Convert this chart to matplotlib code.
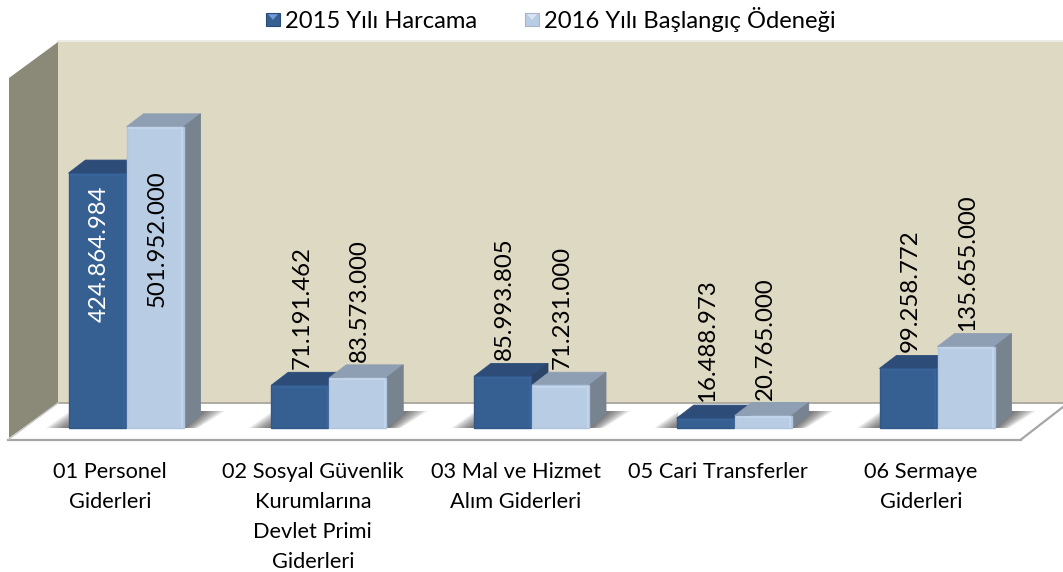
import matplotlib
matplotlib.use("Agg")
import matplotlib.pyplot as plt
from matplotlib.patches import Polygon, Rectangle
from matplotlib.legend_handler import HandlerBase

plt.rcParams['font.family'] = ['Lato', 'Open Sans', 'DejaVu Sans']

categories = ["01 Personel\nGiderleri",
              "02 Sosyal Güvenlik\nKurumlarına\nDevlet Primi\nGiderleri",
              "03 Mal ve Hizmet\nAlım Giderleri",
              "05 Cari Transferler",
              "06 Sermaye\nGiderleri"]
series_names = ["2015 Yılı Harcama", "2016 Yılı Başlangıç Ödeneği"]
harcama_2015 = [424864984, 71191462, 85993805, 16488973, 99258772]
odenek_2016 = [501952000, 83573000, 71231000, 20765000, 135655000]

W, H = 1063, 572
fig = plt.figure(figsize=(W / 100, H / 100), dpi=100, facecolor='white')
ax = fig.add_axes([0, 0, 1, 1])

# scales: pixels per category and per lira
PX_CAT, X0 = 202.75, 126.0
PX_VAL, Y0 = 0.6e-6, 428.0
ax.set_xlim(-X0 / PX_CAT, (W - X0) / PX_CAT)
ax.set_ylim((Y0 - H) / PX_VAL, Y0 / PX_VAL)
ax.axis('off')


def P(px, py):
    return ((px - X0) / PX_CAT, (Y0 - py) / PX_VAL)


def poly(points, **kw):
    p = Polygon([P(*q) for q in points], closed=True, **kw)
    ax.add_patch(p)
    return p


# walls and floor
poly([(58, 42), (W, 42), (W, 403), (58, 403)], fc='#DED9C3', ec='none', zorder=1)
ax.plot(*zip(P(58, 41.5), P(W, 41.5)), color='#E8E8E4', lw=1.2, zorder=1.1)
poly([(9, 78), (58, 42), (58, 403), (9, 438)], fc='#8B8978', ec='none', zorder=1)
poly([(9, 439), (58, 403), (W, 403), (W, 407), (1020, 439)], fc='white', ec='none', zorder=1)
ax.plot(*zip(P(58, 403), P(W, 403)), color='#A8A79E', lw=1.3, zorder=1.2)
ax.plot(*zip(P(8, 439.5), P(1021, 439.5)), color='#A6A6A6', lw=1.6, zorder=1.2)
ax.plot(*zip(P(1021, 439.5), P(W, 407)), color='#A6A6A6', lw=1.6, zorder=1.2)
ax.plot(*zip(P(9, 439), P(58, 403)), color='#C8C8C4', lw=1.0, zorder=1.2)

BAR_W = 58 / PX_CAT
DX, DY = 17, 13
styles = [
    dict(front='#366092', top='#2D4C78', side='#2B4468', edge='#315888', hi='#3A669B'),
    dict(front='#B8CCE4', top='#8F9FB3', side='#77838F', edge='#AFC4DE', hi='#C4D7EE'),
]

# soft floor shadows on both sides of each group
for i in range(len(categories)):
    left = X0 + PX_CAT * i - 58
    right = X0 + PX_CAT * i + 58
    n = 14
    for k in range(n):
        s = (n - k) / n
        poly([(left + 2, 428), (left - 22 * s, 428), (left + 2, 428 - 17 * s)],
             fc='#333333', ec='none', alpha=0.07, zorder=1.5, lw=0)
        poly([(right, 428), (right + 14 * s, 428), (right + DX + 24 * s, 428 - 17),
              (right + DX, 428 - 17)],
             fc='#333333', ec='none', alpha=0.07, zorder=1.5, lw=0)

# bars
for s, (vals, st) in enumerate(zip([harcama_2015, odenek_2016], styles)):
    xs = [i + (s - 0.5) * BAR_W for i in range(len(vals))]
    bars = ax.bar(xs, vals, width=BAR_W - 1 / PX_CAT, color=st['front'],
                  edgecolor=st['edge'], linewidth=1.0, zorder=3 + s)
    for b, v in zip(bars, vals):
        l = X0 + b.get_x() * PX_CAT
        r = l + b.get_width() * PX_CAT
        t = Y0 - v * PX_VAL
        poly([(l, t), (l + DX, t - DY), (r + DX, t - DY), (r, t)],
             fc=st['top'], ec=st['top'], lw=0.6, zorder=3 + s - 0.1)
        poly([(r, t), (r + DX, t - DY), (r + DX, Y0 - DY), (r, Y0)],
             fc=st['side'], ec=st['side'], lw=0.6, zorder=3 + s - 0.1)
        ax.plot(*zip(P(l + 2, t + 1.5), P(r - 2, t + 1.5)), color=st['hi'], lw=1.2, zorder=3 + s + 0.1)
        ax.plot(*zip(P(r - 1.5, t + 2), P(r - 1.5, Y0 - 1)), color=st['hi'], lw=1.2, zorder=3 + s + 0.1)

# data labels
fmt = lambda v: f"{v:,}".replace(",", ".")
LABEL_FS = 17.3
LABEL_DX = 2 * 0.72
for s, (vals, name) in enumerate(zip([harcama_2015, odenek_2016], series_names)):
    for i, v in enumerate(vals):
        x = i + (s - 0.5) * BAR_W
        if v > 400e6:
            gap = 12 if s == 0 else 44
            ax.annotate(fmt(v), (x, v), xytext=(LABEL_DX, -gap * 0.72), textcoords='offset points',
                        rotation=90, ha='center', va='top', fontsize=LABEL_FS,
                        color='white' if s == 0 else 'black', zorder=8)
        else:
            ax.annotate(fmt(v), (x, v), xytext=(LABEL_DX, 16 * 0.72), textcoords='offset points',
                        rotation=90, ha='center', va='bottom', fontsize=LABEL_FS,
                        color='black', zorder=8)

# category labels
for i, c in enumerate(categories):
    x, y = P(X0 + PX_CAT * i - 16, 462)
    ax.text(x, y, c, ha='center', va='top', fontsize=15.7, color='black',
            linespacing=1.63, zorder=8)


class Swatch(HandlerBase):
    def __init__(self, main, border, light):
        super().__init__()
        self.c = (main, border, light)

    def create_artists(self, legend, orig, xd, yd, w, h, fs, trans):
        main, border, light = self.c
        side = 9.5
        x0 = w - side
        y0 = (h - side) / 2
        r = Rectangle((x0, y0), side, side, fc=main, ec=border, lw=0.8, transform=trans)
        t = Polygon([(x0 + side * .12, y0 + side * .88), (x0 + side * .88, y0 + side * .88),
                     (x0 + side * .5, y0 + side * .45)], closed=True, fc=light, ec='none', transform=trans)
        return [r, t]


h1, h2 = Rectangle((0, 0), 1, 1), Rectangle((0, 0), 1, 1)
ax.legend([h1, h2], series_names, ncol=2, loc='center', frameon=False,
          bbox_to_anchor=(548 / W, 1 - 19 / H), fontsize=17.1, columnspacing=1.8,
          handlelength=0.8, handletextpad=0.22, borderpad=0,
          handler_map={h1: Swatch('#366092', '#2A4B75', '#6F9BD6'),
                       h2: Swatch('#B8CCE4', '#A8B4C4', '#DCE6F2')})

fig.savefig('out.png', dpi=100, facecolor='white')
